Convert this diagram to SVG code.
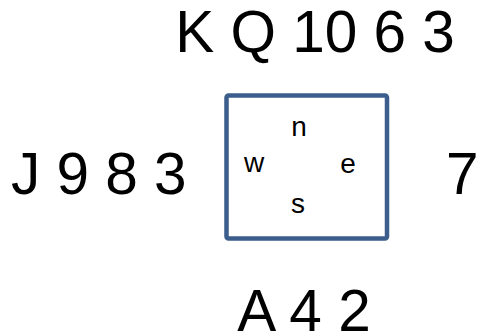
<svg xmlns="http://www.w3.org/2000/svg" width="479" height="336" viewBox="0 0 479 336">
<style>
.big{font-family:"Liberation Sans",Arial,sans-serif;font-size:58.5px;fill:#000}
.sm{font-family:"Liberation Sans",Arial,sans-serif;font-size:28px;fill:#000;text-anchor:middle}
</style>
<rect width="479" height="336" fill="#fff"/>
<g id="north"><text class="big" x="315" y="52" text-anchor="middle">K Q 10 6 3</text></g>
<g id="west"><text class="big" x="11" y="194">J 9 8 3</text></g>
<g id="east"><text class="big" x="446" y="194">7</text></g>
<g id="south"><text class="big" x="304" y="331" text-anchor="middle">A 4 2</text></g>
<g id="table">
<rect x="226.5" y="95.5" width="160.5" height="143" rx="2" fill="none" stroke="#3B5E8C" stroke-width="4.5"/>
<text class="sm" x="299" y="136">n</text>
<text class="sm" x="254" y="172">w</text>
<text class="sm" x="348" y="173">e</text>
<text class="sm" x="298" y="213">s</text>
</g>
</svg>
